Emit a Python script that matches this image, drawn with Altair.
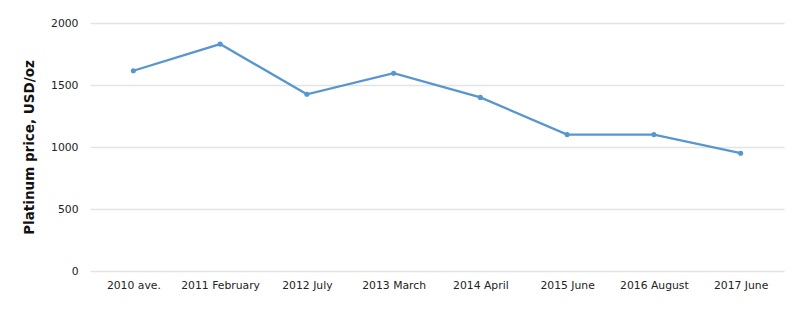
import altair as alt
import pandas as pd

periods = ["2010 ave.", "2011 February", "2012 July", "2013 March",
           "2014 April", "2015 June", "2016 August", "2017 June"]
prices = [1615, 1830, 1425, 1595, 1400, 1100, 1100, 950]

df = pd.DataFrame({"period": periods, "price": prices})

FONT = "DejaVu Sans"
COLOR = "#5896d0"

base = alt.Chart(df).encode(
    x=alt.X("period:N", sort=periods, title=None,
            scale=alt.Scale(paddingInner=1, paddingOuter=0.5),
            axis=alt.Axis(labelAngle=0, labelFont=FONT, labelFontSize=10.8,
                          labelColor="#222222", domain=False, ticks=False,
                          labelPadding=8, grid=False)),
    y=alt.Y("price:Q", title="Platinum price, USD/oz",
            scale=alt.Scale(domain=[0, 2000]),
            axis=alt.Axis(values=[0, 500, 1000, 1500, 2000], format="d",
                          labelFont=FONT,
                          labelFontSize=10.8, labelColor="#222222", domain=False,
                          ticks=False, labelPadding=12, gridColor="#e4e4e4",
                          gridWidth=1.5, titleFont=FONT, titleFontSize=13.5,
                          titleFontWeight="bold", titleColor="#111111",
                          titlePadding=14)),
)

line = base.mark_line(color=COLOR, strokeWidth=2.3)
pts = base.mark_circle(color=COLOR, size=26, opacity=1)

chart = (line + pts).properties(
    width=694, height=248,
    background="white",
    autosize=alt.AutoSizeParams(type="none"),
    padding={"left": 90, "top": 23, "right": 16, "bottom": 41},
).configure_view(stroke="transparent")

chart.save("out.html", embed_options={"renderer": "svg", "actions": False})
